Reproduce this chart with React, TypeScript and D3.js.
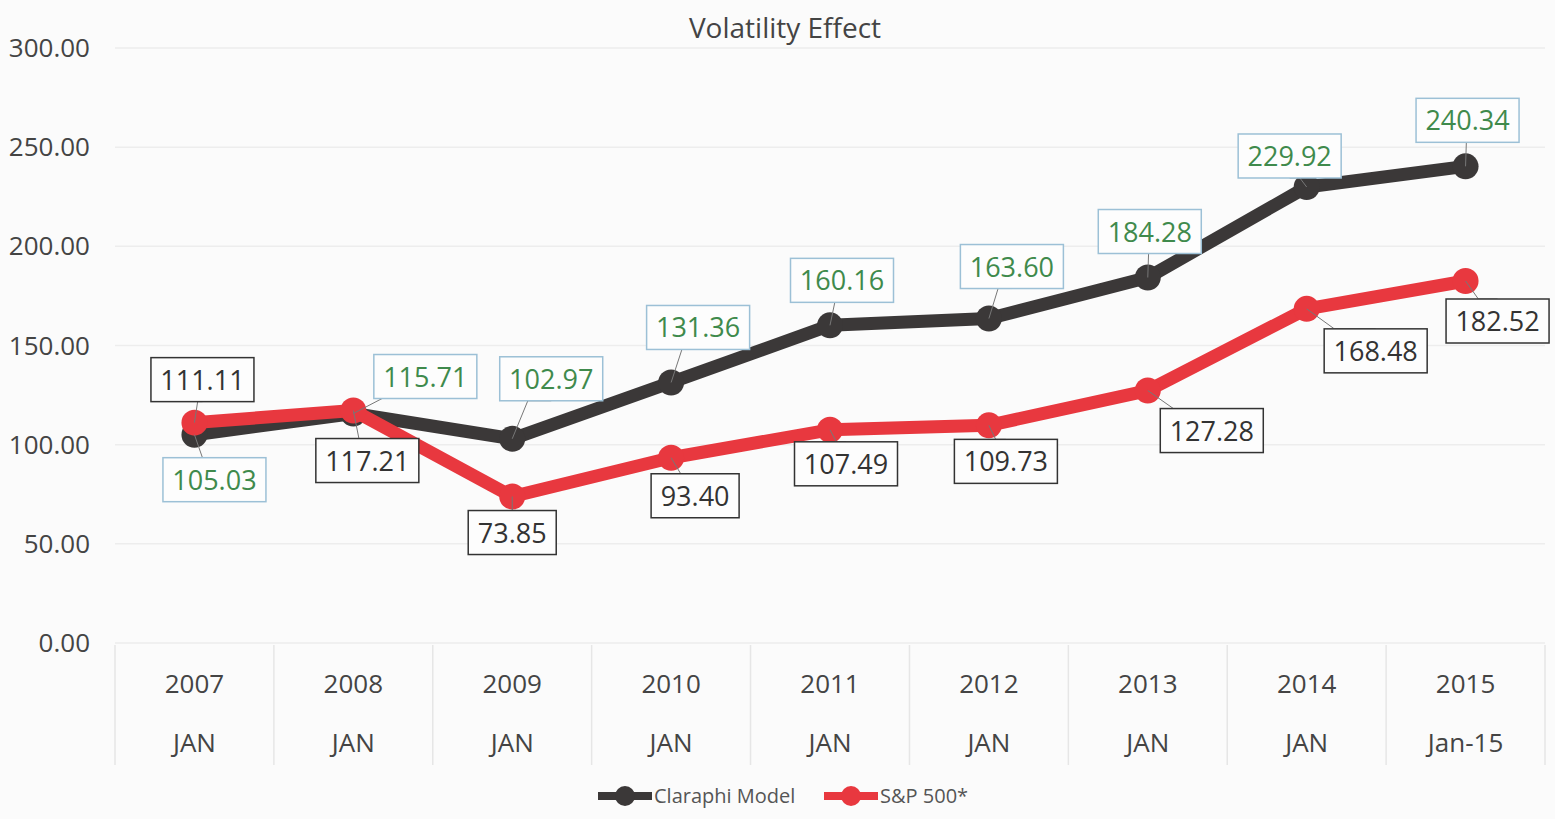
import * as d3 from "d3";
import { useMemo } from "react";

const years = ["2007", "2008", "2009", "2010", "2011", "2012", "2013", "2014", "2015"];
const months = ["JAN", "JAN", "JAN", "JAN", "JAN", "JAN", "JAN", "JAN", "Jan-15"];
const claraphi = [105.03, 115.71, 102.97, 131.36, 160.16, 163.6, 184.28, 229.92, 240.34];
const sp500 = [111.11, 117.21, 73.85, 93.4, 107.49, 109.73, 127.28, 168.48, 182.52];
const yTicks = [0, 50, 100, 150, 200, 250, 300];

// label box offsets from the point (layout only)
const claraphiLabelOffset = [
  [20, 45], [72, -37], [39, -60], [27, -55], [12, -45], [23, -52], [2, -46], [-17, -31], [2, -46],
];
const spLabelOffset = [
  [8, -43], [14, 50], [0, 36], [24, 38], [16, 34], [17, 36], [64, 40], [69, 42], [32, 40],
];

const width = 1555;
const height = 819;
const margin = { top: 48, right: 10, bottom: 176, left: 115 };
const font = "'Open Sans', 'Liberation Sans', sans-serif";

function Label({ x, y, text, color, border }: { x: number; y: number; text: string; color: string; border: string }) {
  const w = text.length * 15 + 13;
  const h = 44;
  return (
    <g>
      <rect x={x - w / 2} y={y - h / 2} width={w} height={h} fill="#fdfdfd" stroke={border} strokeWidth={1.5} />
      <text x={x} y={y + 10} textAnchor="middle" fontSize={27} fill={color} fontFamily={font}>
        {text}
      </text>
    </g>
  );
}

export default function App() {
  const xScale = useMemo(
    () => d3.scaleBand<string>().domain(years).range([margin.left, width - margin.right]).padding(0),
    []
  );
  const yScale = useMemo(
    () => d3.scaleLinear().domain([0, 300]).range([height - margin.bottom, margin.top]),
    []
  );
  const cx = (i: number) => (xScale(years[i]) ?? 0) + xScale.bandwidth() / 2;
  const line = d3
    .line<number>()
    .x((_, i) => cx(i))
    .y((d) => yScale(d));

  const series = [
    { name: "Claraphi Model", values: claraphi, color: "#3b3838", offsets: claraphiLabelOffset, text: "#3f8a4c", border: "#9cc0d6" },
    { name: "S&P 500*", values: sp500, color: "#e8383f", offsets: spLabelOffset, text: "#333", border: "#333" },
  ];

  const baseY = yScale(0);

  return (
    <svg width={width} height={height} style={{ position: "absolute", left: 0, top: 0, background: "#fbfbfb" }}>
      <rect x={0} y={0} width={width} height={height} fill="#fbfbfb" />
      <text x={785} y={38} textAnchor="middle" fontSize={28} fill="#444" fontFamily={font}>
        Volatility Effect
      </text>

      {yTicks.map((t) => (
        <g key={t}>
          <line x1={margin.left} x2={width - margin.right} y1={yScale(t)} y2={yScale(t)} stroke="#ededed" strokeWidth={1.5} />
          <text x={90} y={yScale(t) + 9} textAnchor="end" fontSize={26} fill="#444" fontFamily={font}>
            {d3.format(".2f")(t)}
          </text>
        </g>
      ))}

      {/* category dividers */}
      {[...years.map((y) => xScale(y) ?? 0), width - margin.right].map((x, i) => (
        <line key={i} x1={x} x2={x} y1={baseY + 2} y2={baseY + 122} stroke="#e6e6e6" strokeWidth={1.5} />
      ))}
      {years.map((y, i) => (
        <g key={y}>
          <text x={cx(i)} y={baseY + 50} textAnchor="middle" fontSize={26} fill="#444" fontFamily={font}>
            {y}
          </text>
          <text x={cx(i)} y={baseY + 109} textAnchor="middle" fontSize={26} fill="#444" fontFamily={font}>
            {months[i]}
          </text>
        </g>
      ))}

      {series.map((s) => (
        <g key={s.name}>
          <path d={line(s.values) ?? ""} fill="none" stroke={s.color} strokeWidth={13} strokeLinejoin="round" />
          {s.values.map((v, i) => (
            <circle key={i} cx={cx(i)} cy={yScale(v)} r={13} fill={s.color} />
          ))}
        </g>
      ))}

      {series.map((s) =>
        s.values.map((v, i) => {
          const px = cx(i);
          const py = yScale(v);
          const lx = px + s.offsets[i][0];
          const ly = py + s.offsets[i][1];
          const edgeY = ly + (s.offsets[i][1] < 0 ? 22 : -22);
          return (
            <g key={s.name + i}>
              <polyline
                points={`${px},${py} ${px + s.offsets[i][0] * 0.4},${edgeY} ${lx},${edgeY}`}
                fill="none"
                stroke="#777"
                strokeWidth={1}
              />
              <Label x={lx} y={ly} text={d3.format(".2f")(v)} color={s.text} border={s.border} />
            </g>
          );
        })
      )}

      {/* legend */}
      {series.map((s, i) => {
        const x0 = i === 0 ? 598 : 824;
        return (
          <g key={s.name}>
            <line x1={x0} x2={x0 + 54} y1={796} y2={796} stroke={s.color} strokeWidth={8} />
            <circle cx={x0 + 27} cy={796} r={10} fill={s.color} />
            <text x={x0 + 56} y={803} fontSize={20} fill="#555" fontFamily={font}>
              {s.name}
            </text>
          </g>
        );
      })}
    </svg>
  );
}
